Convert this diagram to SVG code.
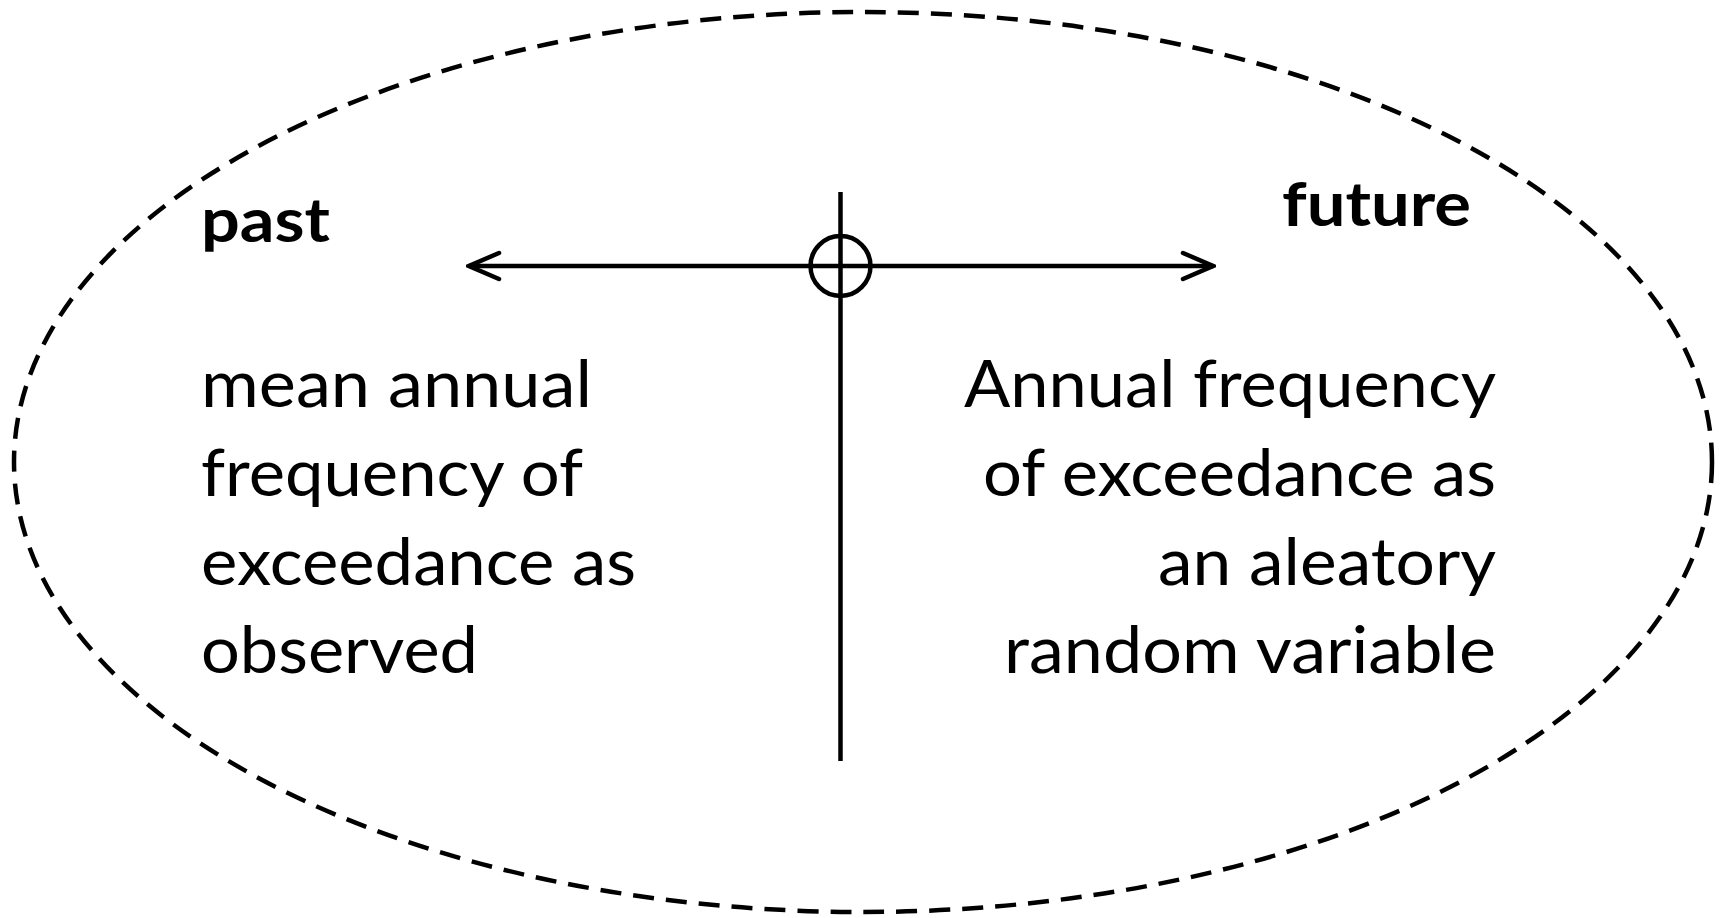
<svg xmlns="http://www.w3.org/2000/svg" width="1725" height="918" viewBox="0 0 1725 918">
<style>
.body{font-family:Lato,"Open Sans",sans-serif;font-size:66px;fill:#000}
.head{font-family:Lato,"Open Sans",sans-serif;font-size:62px;font-weight:bold;fill:#000}
.ln{stroke:#000;stroke-width:4.5;fill:none}
</style>
<defs>
<marker id="arr" viewBox="0 0 36 32" refX="33" refY="16" markerWidth="36" markerHeight="32" markerUnits="userSpaceOnUse" orient="auto-start-reverse">
<path d="M3,3 L33,16 L3,29" fill="none" stroke="#000" stroke-width="4.5" stroke-linecap="round" stroke-linejoin="miter"/>
</marker>
</defs>
<g id="boundary">
<ellipse cx="863" cy="462" rx="849" ry="450" fill="none" stroke="#000" stroke-width="4.5" stroke-dasharray="21,12"/>
</g>
<g id="connectors">
<line class="ln" x1="469" y1="266" x2="1213" y2="266" marker-start="url(#arr)" marker-end="url(#arr)"/>
<line class="ln" x1="840.5" y1="192" x2="840.5" y2="761"/>
</g>
<g id="origin">
<circle class="ln" cx="840.5" cy="266" r="30"/>
</g>
<g id="past">
<text class="head" x="201" y="242" textLength="129" lengthAdjust="spacingAndGlyphs">past</text>
<text class="body" x="201" y="407" textLength="391" lengthAdjust="spacingAndGlyphs">mean annual</text>
<text class="body" x="201" y="496" textLength="382" lengthAdjust="spacingAndGlyphs">frequency of</text>
<text class="body" x="201" y="585" textLength="435" lengthAdjust="spacingAndGlyphs">exceedance as</text>
<text class="body" x="201" y="673" textLength="277" lengthAdjust="spacingAndGlyphs">observed</text>
</g>
<g id="future">
<text class="head" x="1282" y="226" textLength="189" lengthAdjust="spacingAndGlyphs">future</text>
<text class="body" x="964" y="407" textLength="532" lengthAdjust="spacingAndGlyphs">Annual frequency</text>
<text class="body" x="983" y="496" textLength="513" lengthAdjust="spacingAndGlyphs">of exceedance as</text>
<text class="body" x="1158" y="585" textLength="338" lengthAdjust="spacingAndGlyphs">an aleatory</text>
<text class="body" x="1004" y="673" textLength="492" lengthAdjust="spacingAndGlyphs">random variable</text>
</g>
</svg>
